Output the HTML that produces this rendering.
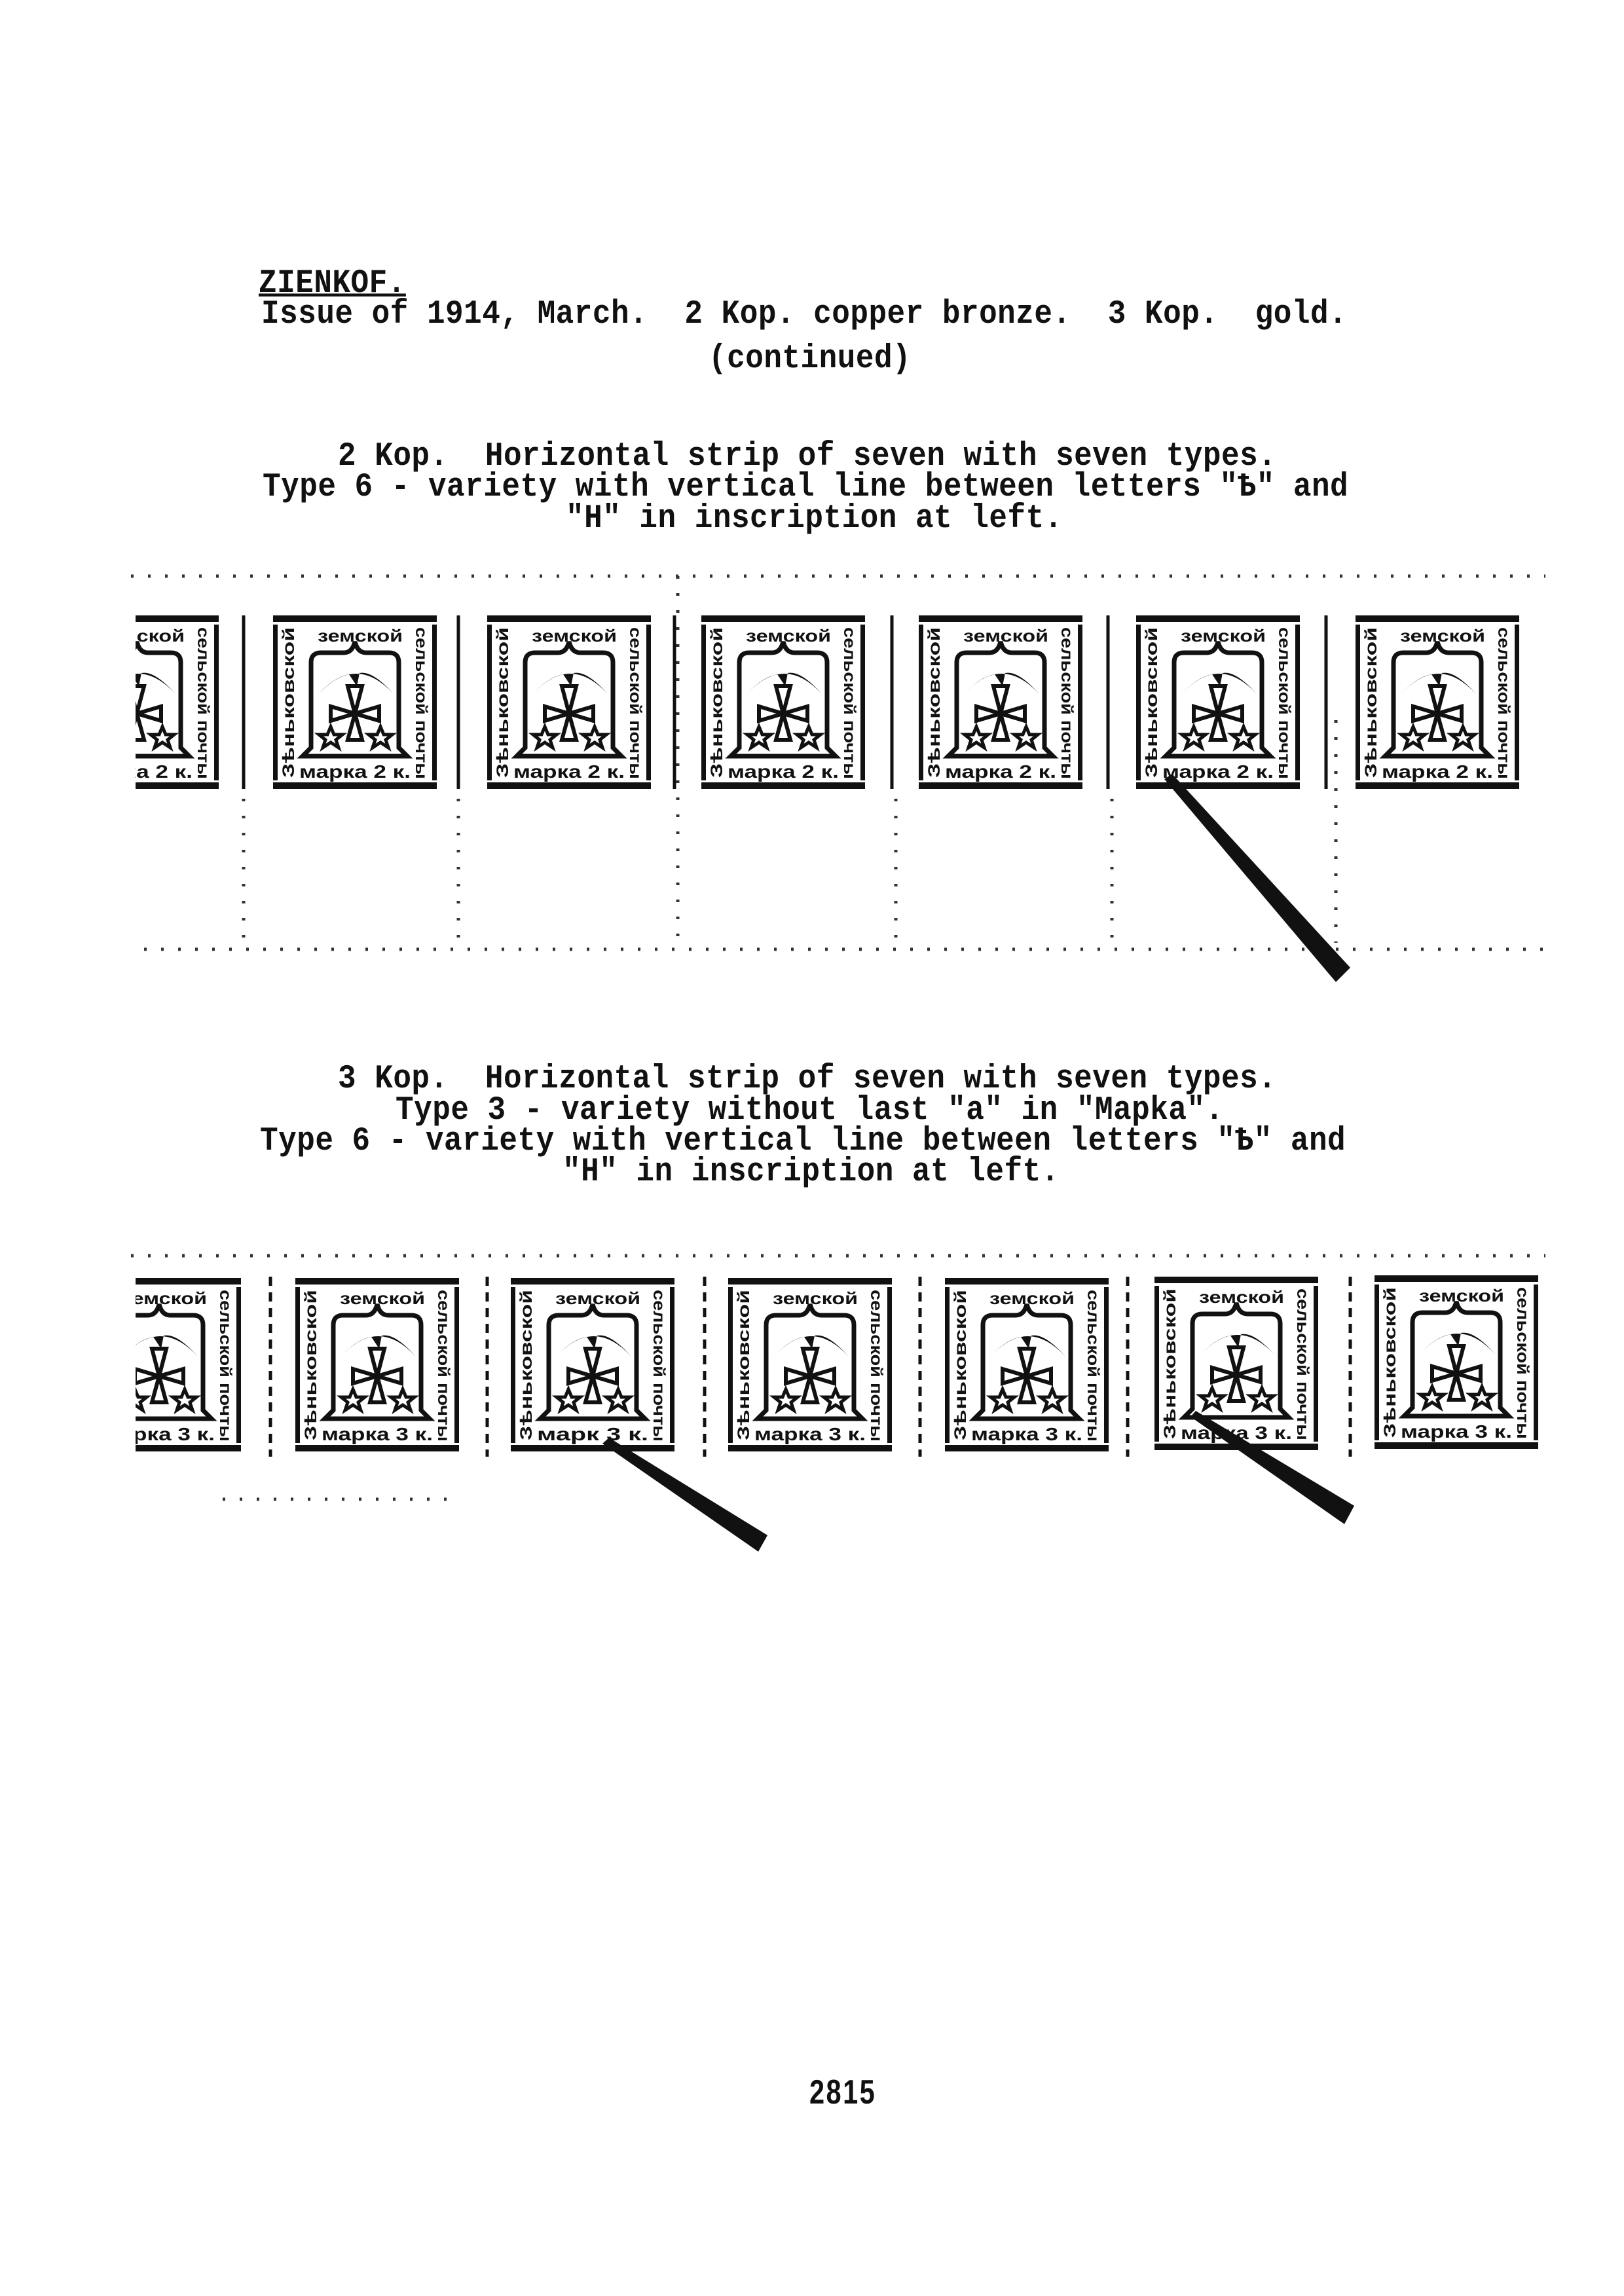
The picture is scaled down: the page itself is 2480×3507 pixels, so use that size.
<!DOCTYPE html>
<html><head><meta charset="utf-8">
<style>
html,body{margin:0;padding:0;background:#fff;}
body{width:2480px;height:3507px;position:relative;overflow:hidden;}
.t{position:absolute;font-family:"Liberation Mono",monospace;font-weight:bold;font-size:46px;letter-spacing:0.5px;white-space:pre;color:#111;line-height:50px;transform:scaleY(1.1);transform-origin:left center;}
.pn{position:absolute;left:1236px;top:3166px;font-family:"Liberation Sans",sans-serif;font-weight:bold;font-size:52px;letter-spacing:3px;color:#111;transform:scaleX(0.8);transform-origin:left top;}
svg{position:absolute;left:0;top:0;}
.s text{font-family:"Liberation Sans","DejaVu Sans",sans-serif;font-weight:bold;fill:#111;}
</style></head><body>
<svg width="2480" height="3507" viewBox="0 0 2480 3507">
<defs>
<g id="bell">
<rect x="0" y="0" width="250" height="10" fill="#111"/>
<rect x="0" y="255" width="250" height="10" fill="#111"/>
<rect x="0" y="14" width="7" height="238" fill="#111"/>
<rect x="243" y="14" width="7" height="238" fill="#111"/>
<path d="M45,215 L58,202 L58,72 Q58,57 73,57 L108,57 Q121,57 125,40 Q129,57 142,57 L177,57 Q192,57 192,72 L192,202 L205,215 Z" fill="none" stroke="#111" stroke-width="7"/>
<path d="M66,124 Q125,56 184,120 Q152,84 132,88 L128,108 L116,90 Q92,94 66,124 Z" fill="#111"/>
<g fill="none" stroke="#111" stroke-width="6">
<path d="M125,150 L114,108 L136,108 Z"/>
<path d="M125,150 L114,190 L136,190 Z"/>
<path d="M125,150 L88,139 L88,161 Z"/>
<path d="M125,150 L162,139 L162,161 Z"/>
</g>
<path d="M88,170 L93,182 L106,182 L96,190 L100,202 L88,194 L76,202 L80,190 L70,182 L83,182 Z" fill="none" stroke="#111" stroke-width="5"/>
<path d="M164,170 L169,182 L182,182 L172,190 L176,202 L164,194 L152,202 L156,190 L146,182 L159,182 Z" fill="none" stroke="#111" stroke-width="5"/>
</g>
<clipPath id="c1"><rect x="207" y="900" width="200" height="330"/></clipPath>
<clipPath id="c2"><rect x="207" y="1900" width="200" height="330"/></clipPath>
</defs>

<g stroke="#333" stroke-width="5" stroke-dasharray="4 22" fill="none">
<line x1="200" y1="880" x2="2360" y2="880"/>
<line x1="220" y1="1450" x2="2360" y2="1450"/>
<line x1="372" y1="1220" x2="372" y2="1440"/>
<line x1="700" y1="1220" x2="700" y2="1440"/>
<line x1="1035" y1="880" x2="1035" y2="1440"/>
<line x1="1368" y1="1220" x2="1368" y2="1440"/>
<line x1="1698" y1="1220" x2="1698" y2="1440"/>
<line x1="2040" y1="1100" x2="2040" y2="1440"/>
<line x1="200" y1="1918" x2="2360" y2="1918"/>
<line x1="340" y1="2290" x2="700" y2="2290"/>
</g>
<g stroke="#111" stroke-width="5">
<line x1="372" y1="940" x2="372" y2="1205"/>
<line x1="700" y1="940" x2="700" y2="1205"/>
<line x1="1030" y1="940" x2="1030" y2="1205"/>
<line x1="1362" y1="940" x2="1362" y2="1205"/>
<line x1="1692" y1="940" x2="1692" y2="1205"/>
<line x1="2025" y1="940" x2="2025" y2="1205"/>
</g>
<g stroke="#111" stroke-width="5" stroke-dasharray="14 10">
<line x1="413" y1="1950" x2="413" y2="2225"/>
<line x1="744" y1="1950" x2="744" y2="2225"/>
<line x1="1076" y1="1950" x2="1076" y2="2225"/>
<line x1="1405" y1="1950" x2="1405" y2="2225"/>
<line x1="1722" y1="1950" x2="1722" y2="2225"/>
<line x1="2062" y1="1950" x2="2062" y2="2225"/>
</g>

<g class="s">
<g clip-path="url(#c1)"><g transform="translate(84,940)"><use href="#bell"/>
<text font-size="25" textLength="230" lengthAdjust="spacingAndGlyphs" transform="translate(32,248) rotate(-90)">Зѣньковской</text>
<text font-size="25" textLength="232" lengthAdjust="spacingAndGlyphs" transform="translate(218,18) rotate(90)">сельской почты</text>
<text x="68" y="40" font-size="26" textLength="130" lengthAdjust="spacingAndGlyphs">земской</text>
<text x="40" y="248" font-size="28" textLength="170" lengthAdjust="spacingAndGlyphs">марка 2 к.</text></g></g>
</g>
<g class="s">
<g transform="translate(417,940)"><use href="#bell"/><text font-size="25" textLength="230" lengthAdjust="spacingAndGlyphs" transform="translate(32,248) rotate(-90)">Зѣньковской</text><text font-size="25" textLength="232" lengthAdjust="spacingAndGlyphs" transform="translate(218,18) rotate(90)">сельской почты</text><text x="68" y="40" font-size="26" textLength="130" lengthAdjust="spacingAndGlyphs">земской</text><text x="40" y="248" font-size="28" textLength="170" lengthAdjust="spacingAndGlyphs">марка 2 к.</text></g>
<g transform="translate(744,940)"><use href="#bell"/><text font-size="25" textLength="230" lengthAdjust="spacingAndGlyphs" transform="translate(32,248) rotate(-90)">Зѣньковской</text><text font-size="25" textLength="232" lengthAdjust="spacingAndGlyphs" transform="translate(218,18) rotate(90)">сельской почты</text><text x="68" y="40" font-size="26" textLength="130" lengthAdjust="spacingAndGlyphs">земской</text><text x="40" y="248" font-size="28" textLength="170" lengthAdjust="spacingAndGlyphs">марка 2 к.</text></g>
<g transform="translate(1071,940)"><use href="#bell"/><text font-size="25" textLength="230" lengthAdjust="spacingAndGlyphs" transform="translate(32,248) rotate(-90)">Зѣньковской</text><text font-size="25" textLength="232" lengthAdjust="spacingAndGlyphs" transform="translate(218,18) rotate(90)">сельской почты</text><text x="68" y="40" font-size="26" textLength="130" lengthAdjust="spacingAndGlyphs">земской</text><text x="40" y="248" font-size="28" textLength="170" lengthAdjust="spacingAndGlyphs">марка 2 к.</text></g>
<g transform="translate(1403,940)"><use href="#bell"/><text font-size="25" textLength="230" lengthAdjust="spacingAndGlyphs" transform="translate(32,248) rotate(-90)">Зѣньковской</text><text font-size="25" textLength="232" lengthAdjust="spacingAndGlyphs" transform="translate(218,18) rotate(90)">сельской почты</text><text x="68" y="40" font-size="26" textLength="130" lengthAdjust="spacingAndGlyphs">земской</text><text x="40" y="248" font-size="28" textLength="170" lengthAdjust="spacingAndGlyphs">марка 2 к.</text></g>
<g transform="translate(1735,940)"><use href="#bell"/><text font-size="25" textLength="230" lengthAdjust="spacingAndGlyphs" transform="translate(32,248) rotate(-90)">Зѣньковской</text><text font-size="25" textLength="232" lengthAdjust="spacingAndGlyphs" transform="translate(218,18) rotate(90)">сельской почты</text><text x="68" y="40" font-size="26" textLength="130" lengthAdjust="spacingAndGlyphs">земской</text><text x="40" y="248" font-size="28" textLength="170" lengthAdjust="spacingAndGlyphs">марка 2 к.</text></g>
<g transform="translate(2070,940)"><use href="#bell"/><text font-size="25" textLength="230" lengthAdjust="spacingAndGlyphs" transform="translate(32,248) rotate(-90)">Зѣньковской</text><text font-size="25" textLength="232" lengthAdjust="spacingAndGlyphs" transform="translate(218,18) rotate(90)">сельской почты</text><text x="68" y="40" font-size="26" textLength="130" lengthAdjust="spacingAndGlyphs">земской</text><text x="40" y="248" font-size="28" textLength="170" lengthAdjust="spacingAndGlyphs">марка 2 к.</text></g>
</g>
<polygon points="1778,1190 1790,1182 2062,1478 2040,1500" fill="#111"/>

<g class="s">
<g clip-path="url(#c2)"><g transform="translate(118,1952)"><use href="#bell"/><text font-size="25" textLength="230" lengthAdjust="spacingAndGlyphs" transform="translate(32,248) rotate(-90)">Зѣньковской</text><text font-size="25" textLength="232" lengthAdjust="spacingAndGlyphs" transform="translate(218,18) rotate(90)">сельской почты</text><text x="68" y="40" font-size="26" textLength="130" lengthAdjust="spacingAndGlyphs">земской</text><text x="40" y="248" font-size="28" textLength="170" lengthAdjust="spacingAndGlyphs">марка 3 к.</text></g></g>
<g transform="translate(451,1952)"><use href="#bell"/><text font-size="25" textLength="230" lengthAdjust="spacingAndGlyphs" transform="translate(32,248) rotate(-90)">Зѣньковской</text><text font-size="25" textLength="232" lengthAdjust="spacingAndGlyphs" transform="translate(218,18) rotate(90)">сельской почты</text><text x="68" y="40" font-size="26" textLength="130" lengthAdjust="spacingAndGlyphs">земской</text><text x="40" y="248" font-size="28" textLength="170" lengthAdjust="spacingAndGlyphs">марка 3 к.</text></g>
<g transform="translate(780,1952)"><use href="#bell"/><text font-size="25" textLength="230" lengthAdjust="spacingAndGlyphs" transform="translate(32,248) rotate(-90)">Зѣньковской</text><text font-size="25" textLength="232" lengthAdjust="spacingAndGlyphs" transform="translate(218,18) rotate(90)">сельской почты</text><text x="68" y="40" font-size="26" textLength="130" lengthAdjust="spacingAndGlyphs">земской</text><text x="40" y="248" font-size="28" textLength="170" lengthAdjust="spacingAndGlyphs">марк  3 к.</text></g>
<g transform="translate(1112,1952)"><use href="#bell"/><text font-size="25" textLength="230" lengthAdjust="spacingAndGlyphs" transform="translate(32,248) rotate(-90)">Зѣньковской</text><text font-size="25" textLength="232" lengthAdjust="spacingAndGlyphs" transform="translate(218,18) rotate(90)">сельской почты</text><text x="68" y="40" font-size="26" textLength="130" lengthAdjust="spacingAndGlyphs">земской</text><text x="40" y="248" font-size="28" textLength="170" lengthAdjust="spacingAndGlyphs">марка 3 к.</text></g>
<g transform="translate(1443,1952)"><use href="#bell"/><text font-size="25" textLength="230" lengthAdjust="spacingAndGlyphs" transform="translate(32,248) rotate(-90)">Зѣньковской</text><text font-size="25" textLength="232" lengthAdjust="spacingAndGlyphs" transform="translate(218,18) rotate(90)">сельской почты</text><text x="68" y="40" font-size="26" textLength="130" lengthAdjust="spacingAndGlyphs">земской</text><text x="40" y="248" font-size="28" textLength="170" lengthAdjust="spacingAndGlyphs">марка 3 к.</text></g>
<g transform="translate(1763,1950)"><use href="#bell"/><text font-size="25" textLength="230" lengthAdjust="spacingAndGlyphs" transform="translate(32,248) rotate(-90)">Зѣньковской</text><text font-size="25" textLength="232" lengthAdjust="spacingAndGlyphs" transform="translate(218,18) rotate(90)">сельской почты</text><text x="68" y="40" font-size="26" textLength="130" lengthAdjust="spacingAndGlyphs">земской</text><text x="40" y="248" font-size="28" textLength="170" lengthAdjust="spacingAndGlyphs">марка 3 к.</text></g>
<g transform="translate(2099,1948)"><use href="#bell"/><text font-size="25" textLength="230" lengthAdjust="spacingAndGlyphs" transform="translate(32,248) rotate(-90)">Зѣньковской</text><text font-size="25" textLength="232" lengthAdjust="spacingAndGlyphs" transform="translate(218,18) rotate(90)">сельской почты</text><text x="68" y="40" font-size="26" textLength="130" lengthAdjust="spacingAndGlyphs">земской</text><text x="40" y="248" font-size="28" textLength="170" lengthAdjust="spacingAndGlyphs">марка 3 к.</text></g>
</g>
<polygon points="920,2205 930,2196 1172,2345 1158,2370" fill="#111"/>
<polygon points="1818,2164 1826,2155 2068,2300 2053,2328" fill="#111"/>
</svg>

<div class="t" style="left:395px;top:408px;text-decoration:underline;text-decoration-thickness:4px;text-underline-offset:2px;">ZIENKOF.</div>
<div class="t" style="left:399px;top:455px;">Issue of 1914, March.  2 Kop. copper bronze.  3 Kop.  gold.</div>
<div class="t" style="left:1082px;top:523px;">(continued)</div>
<div class="t" style="left:516px;top:672px;">2 Kop.  Horizontal strip of seven with seven types.</div>
<div class="t" style="left:401px;top:719px;">Type 6 - variety with vertical line between letters "Ѣ" and</div>
<div class="t" style="left:864px;top:767px;">"H" in inscription at left.</div>
<div class="t" style="left:516px;top:1623px;">3 Kop.  Horizontal strip of seven with seven types.</div>
<div class="t" style="left:604px;top:1671px;">Type 3 - variety without last "a" in "Mapka".</div>
<div class="t" style="left:397px;top:1718px;">Type 6 - variety with vertical line between letters "Ѣ" and</div>
<div class="t" style="left:859px;top:1765px;">"H" in inscription at left.</div>
<div class="pn">2815</div>
</body></html>
